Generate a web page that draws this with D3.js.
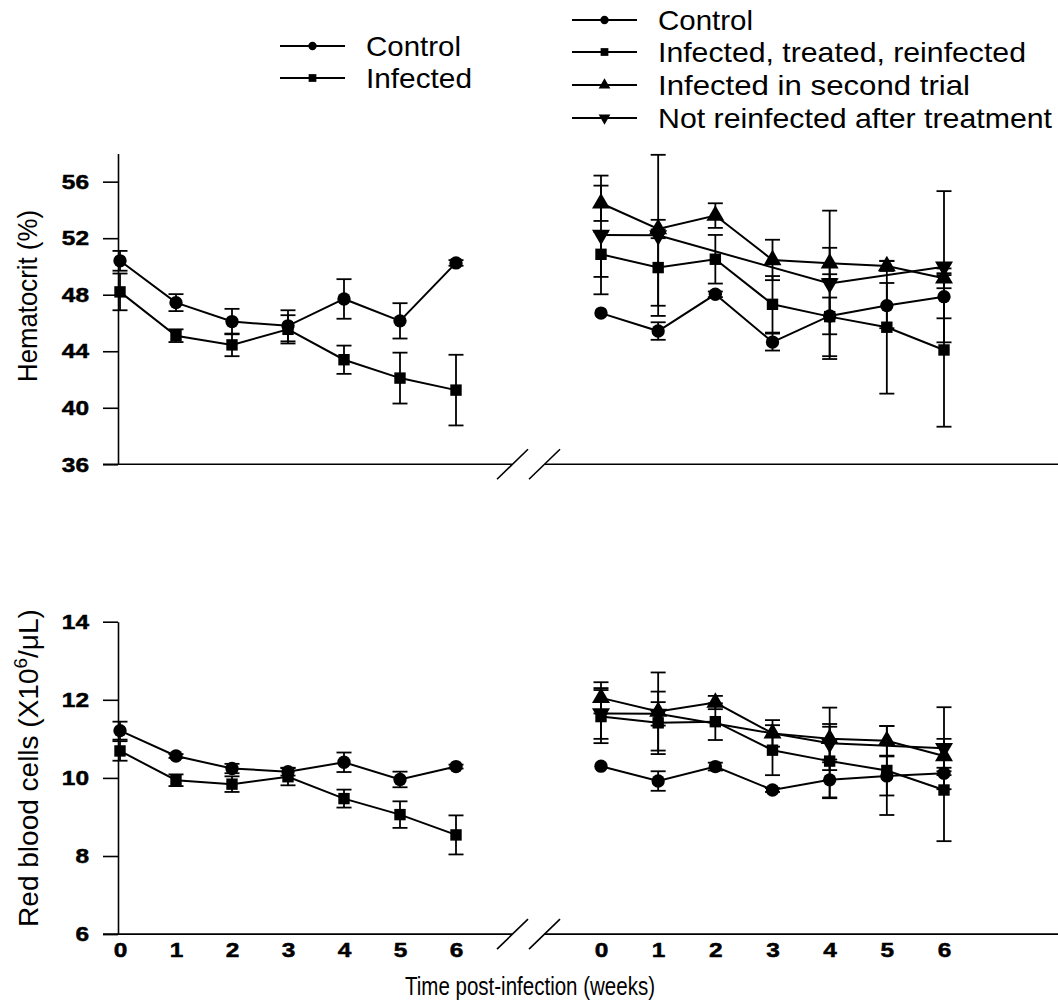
<!DOCTYPE html>
<html><head><meta charset="utf-8">
<script src="https://cdn.jsdelivr.net/npm/d3@7"></script>
<style>body{margin:0;background:#fff}</style>
</head><body>
<svg id="c" width="1058" height="1007"></svg>
<script>
// ---------- data ----------
const weeks = [0, 1, 2, 3, 4, 5, 6];
const hctTicks = [36, 40, 44, 48, 52, 56];
const rbcTicks = [6, 8, 10, 12, 14];
const legendA = ["Control", "Infected"];
const legendB = ["Control", "Infected, treated, reinfected", "Infected in second trial", "Not reinfected after treatment"];

// Hematocrit, first trial
const hctCtrlA = [50.4, 47.44, 46.1, 45.8, 47.7, 46.15, 50.25];
const hctCtrlAErr = [0.7, 0.6, 0.9, 1.1, 1.4, 1.25, 0.2];
const hctInfA = [48.2, 45.1, 44.45, 45.55, 43.4, 42.1, 41.25];
const hctInfAErr = [1.3, 0.45, 0.8, 1.0, 1.0, 1.8, 2.5];
// Hematocrit, second trial
const hctCtrlB = [46.7, 45.43, 48.03, 44.65, 46.5, 47.23, 47.86];
const hctCtrlBErr = [0, 0.62, 0.2, 0.6, 1.3, 1.6, 1.53];
const hctReinfB = [50.86, 49.92, 50.51, 47.32, 46.45, 45.7, 44.09];
const hctReinfBErr = [1.6, 2.7, 1.72, 2.0, 3.0, 4.7, 5.43];
const hctSecondB = [54.47, 52.65, 53.6, 50.46, 50.22, 50.03, 49.16];
const hctSecondBErr = [1.25, 0.65, 0.87, 1.43, 1.1, 0.35, 0.7];
const hctNotReinfB = [52.23, 52.2, null, null, 48.8, null, 49.98];
const hctNotReinfBErr = [4.2, 5.7, null, null, 5.15, null, 5.35];

// Red blood cells, first trial
const rbcCtrlA = [11.21, 10.56, 10.24, 10.16, 10.40, 9.96, 10.29];
const rbcCtrlAErr = [0.23, 0.05, 0.12, 0.1, 0.25, 0.2, 0.05];
const rbcInfA = [10.69, 9.94, 9.84, 10.03, 9.47, 9.06, 8.54];
const rbcInfAErr = [0.25, 0.15, 0.2, 0.22, 0.23, 0.34, 0.5];
// Red blood cells, second trial
const rbcCtrlB = [10.30, 9.92, 10.29, 9.69, 9.95, 10.05, 10.12];
const rbcCtrlBErr = [0, 0.25, 0.1, 0.05, 0.45, 0.5, 0.05];
const rbcReinfB = [11.57, 11.41, 11.44, 10.71, 10.43, 10.19, 9.69];
const rbcReinfBErr = [0.68, 0.8, 0.47, 0.64, 0.95, 1.14, 1.31];
const rbcSecondB = [12.05, 11.70, 11.93, 11.14, 11.0, 10.95, 10.56];
const rbcSecondBErr = [0.4, 1.0, 0.17, 0.34, 0.8, 0.38, 0.3];
const rbcNotReinfB = [11.65, 11.64, null, null, 10.89, null, 10.76];
const rbcNotReinfBErr = [0.65, 0.3, null, null, 0.42, null, 1.05];

// ---------- drawing ----------
const svg = d3.select("#c");
const FONT = "'Liberation Sans', Arial, Helvetica, sans-serif";
svg.append("rect").attr("width", 1058).attr("height", 1007).attr("fill", "#fff");

const xA = d3.scaleLinear().domain([0, 6]).range([120, 456]);
const xB = d3.scaleLinear().domain([0, 6]).range([601, 944]);
const yTop = d3.scaleLinear().domain([36, 58]).range([464.3, 153.4]);
const yBot = d3.scaleLinear().domain([6, 14]).range([934.1, 621.7]);
const axisX = 118;

const SYM = {
  circle: {type: d3.symbolCircle, size: 140, rot: 0, lsize: 55},
  square: {type: d3.symbolSquare, size: 130, rot: 0, lsize: 60},
  tri: {type: d3.symbolTriangle, size: 140, rot: 0, lsize: 60},
  triDown: {type: d3.symbolTriangle, size: 140, rot: 180, lsize: 60}
};

function drawSeries(g, x, y, vals, errs, sym) {
  const pts = weeks.map((w, i) => ({w, v: vals[i], e: errs[i]})).filter(d => d.v != null);
  const line = d3.line().x(d => x(d.w)).y(d => y(d.v));
  g.append("path").attr("d", line(pts)).attr("fill", "none").attr("stroke", "#000").attr("stroke-width", 2);
  const eb = g.append("g").attr("stroke", "#000").attr("stroke-width", 1.8);
  pts.filter(d => d.e > 0).forEach(d => {
    const cx = x(d.w);
    eb.append("line").attr("x1", cx).attr("x2", cx).attr("y1", y(d.v - d.e)).attr("y2", y(d.v + d.e));
    eb.append("line").attr("x1", cx - 7.5).attr("x2", cx + 7.5).attr("y1", y(d.v - d.e)).attr("y2", y(d.v - d.e));
    eb.append("line").attr("x1", cx - 7.5).attr("x2", cx + 7.5).attr("y1", y(d.v + d.e)).attr("y2", y(d.v + d.e));
  });
  const s = SYM[sym];
  g.selectAll(null).data(pts).enter().append("path")
    .attr("d", d3.symbol().type(s.type).size(s.size))
    .attr("transform", d => `translate(${x(d.w)},${y(d.v)}) rotate(${s.rot})`)
    .attr("fill", "#000");
}

function styleTickText(sel, perChar) {
  sel.attr("font-family", FONT).attr("font-weight", "bold")
    .attr("font-size", 21).attr("fill", "#000").attr("stroke", "#000").attr("stroke-width", 0.5)
    .attr("textLength", d => String(d).length * perChar).attr("lengthAdjust", "spacingAndGlyphs");
}

function yAxis(y, ticks) {
  const g = svg.append("g").attr("transform", `translate(${axisX},0)`)
    .call(d3.axisLeft(y).tickValues(ticks).tickSize(15).tickSizeOuter(0).tickPadding(14));
  g.select(".domain").attr("stroke", "#000").attr("stroke-width", 1.6);
  g.selectAll(".tick line").attr("stroke", "#000").attr("stroke-width", 1.6);
  styleTickText(g.selectAll(".tick text"), 13.6);
}

function xAxisLine(yv) {
  const g = svg.append("g").attr("stroke", "#000").attr("stroke-width", 1.6).attr("fill", "none");
  g.append("line").attr("x1", 103).attr("x2", 512).attr("y1", yv).attr("y2", yv);
  g.append("line").attr("x1", 545).attr("x2", 1058).attr("y1", yv).attr("y2", yv);
  g.append("line").attr("x1", 497).attr("y1", yv + 15).attr("x2", 528).attr("y2", yv - 15);
  g.append("line").attr("x1", 529).attr("y1", yv + 15).attr("x2", 560).attr("y2", yv - 15);
}

yAxis(yTop, hctTicks);
yAxis(yBot, rbcTicks);
xAxisLine(yTop(36));
xAxisLine(yBot(6));

// bottom tick labels
[xA, xB].forEach(x => {
  const g = svg.append("g").attr("transform", `translate(0,${yBot(6)})`)
    .call(d3.axisBottom(x).tickValues(weeks).tickSize(0).tickPadding(8).tickFormat(d3.format("d")));
  g.select(".domain").remove();
  styleTickText(g.selectAll(".tick text"), 13.6);
});

const gTA = svg.append("g"), gTB = svg.append("g"), gBA = svg.append("g"), gBB = svg.append("g");
drawSeries(gTA, xA, yTop, hctCtrlA, hctCtrlAErr, "circle");
drawSeries(gTA, xA, yTop, hctInfA, hctInfAErr, "square");
drawSeries(gTB, xB, yTop, hctCtrlB, hctCtrlBErr, "circle");
drawSeries(gTB, xB, yTop, hctReinfB, hctReinfBErr, "square");
drawSeries(gTB, xB, yTop, hctSecondB, hctSecondBErr, "tri");
drawSeries(gTB, xB, yTop, hctNotReinfB, hctNotReinfBErr, "triDown");
drawSeries(gBA, xA, yBot, rbcCtrlA, rbcCtrlAErr, "circle");
drawSeries(gBA, xA, yBot, rbcInfA, rbcInfAErr, "square");
drawSeries(gBB, xB, yBot, rbcCtrlB, rbcCtrlBErr, "circle");
drawSeries(gBB, xB, yBot, rbcReinfB, rbcReinfBErr, "square");
drawSeries(gBB, xB, yBot, rbcSecondB, rbcSecondBErr, "tri");
drawSeries(gBB, xB, yBot, rbcNotReinfB, rbcNotReinfBErr, "triDown");

// axis titles
svg.append("text").attr("x", 530).attr("y", 995).attr("text-anchor", "middle")
  .attr("font-family", FONT).attr("font-size", 26)
  .attr("textLength", 250).attr("lengthAdjust", "spacingAndGlyphs")
  .text("Time post-infection (weeks)");
svg.append("text").attr("transform", "translate(37,296) rotate(-90)").attr("text-anchor", "middle")
  .attr("font-family", FONT).attr("font-size", 28)
  .attr("textLength", 172).attr("lengthAdjust", "spacingAndGlyphs")
  .text("Hematocrit (%)");
const rbcT = svg.append("text").attr("transform", "translate(38,768) rotate(-90)").attr("text-anchor", "middle")
  .attr("font-family", FONT).attr("font-size", 28);
rbcT.append("tspan").text("Red blood cells (X10");
rbcT.append("tspan").attr("font-size", 19).attr("dy", -11).text("6");
rbcT.append("tspan").attr("dy", 11).text("/\u03BCL)");

// legends
function legend(items, syms, x0, ys, widths) {
  items.forEach((t, i) => {
    const g = svg.append("g").attr("transform", `translate(0,${ys[i]})`);
    g.append("line").attr("x1", x0).attr("x2", x0 + 65).attr("stroke", "#000").attr("stroke-width", 1.8);
    const s = SYM[syms[i]];
    g.append("path").attr("d", d3.symbol().type(s.type).size(s.lsize)())
      .attr("transform", `translate(${x0 + 32.5},0) rotate(${s.rot})`).attr("fill", "#000");
    g.append("text").attr("x", x0 + 86).attr("dy", "0.36em").attr("font-family", FONT)
      .attr("font-size", 28).attr("fill", "#000")
      .attr("textLength", widths[i]).attr("lengthAdjust", "spacingAndGlyphs").text(t);
  });
}
legend(legendA, ["circle", "square"], 280, [46, 78], [95, 106]);
legend(legendB, ["circle", "square", "tri", "triDown"], 572, [20, 52, 85, 118], [95, 368, 312, 394]);
</script>
</body></html>
